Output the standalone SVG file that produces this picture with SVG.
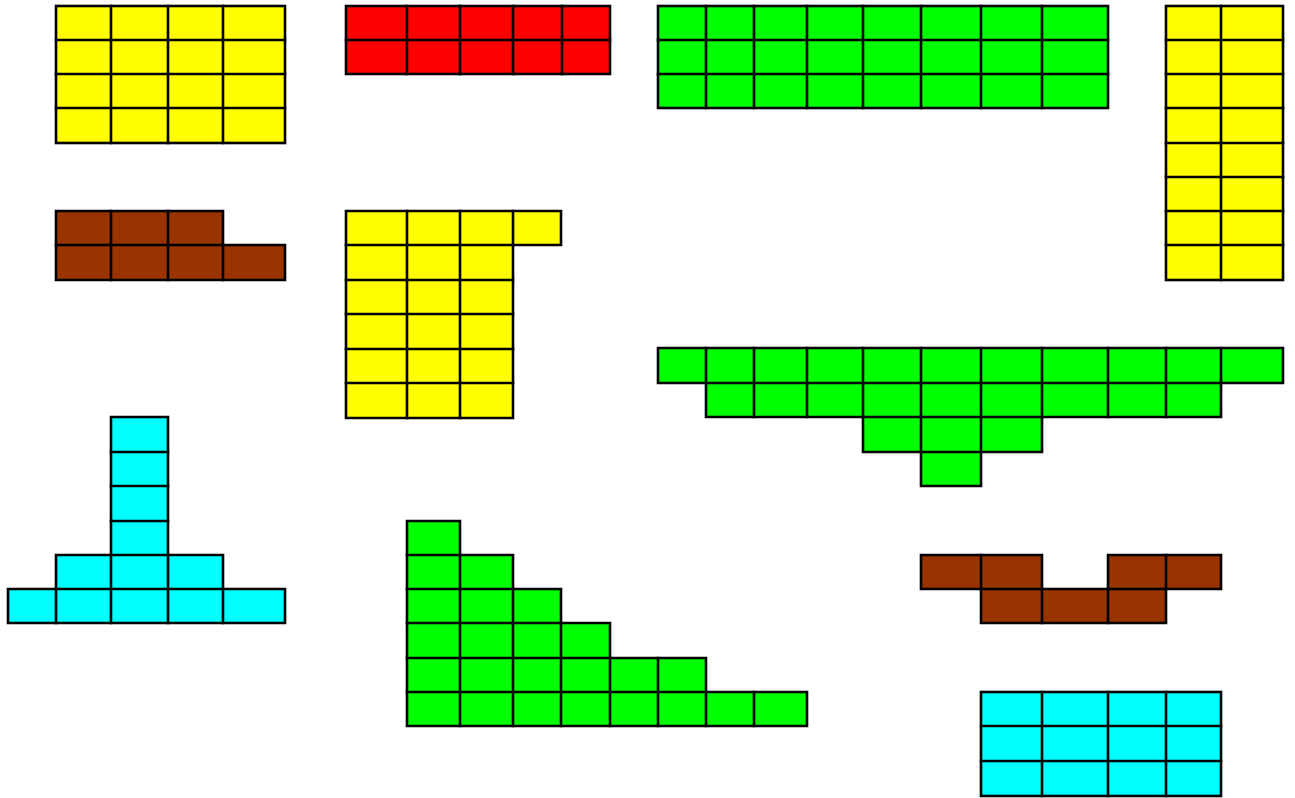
<svg xmlns="http://www.w3.org/2000/svg" width="1295" height="798" viewBox="0 0 1295 798">
<style>
.o{stroke:#000;stroke-width:2.6;stroke-linejoin:miter}
.g{fill:none;stroke:#000;stroke-width:2.6;stroke-linecap:square}
.y{fill:#FFFF00}.r{fill:#FF0000}.gr{fill:#00FF00}.b{fill:#993300}.c{fill:#00FFFF}
</style>
<rect width="1295" height="798" fill="#fff"/>
<g id="shape1">
<rect class="o y" x="56" y="6" width="229" height="137"/>
<path class="g" d="M111 6V143M168 6V143M223 6V143M56 40H285M56 74H285M56 108H285"/>
</g>
<g id="shape2">
<rect class="o r" x="346" y="6" width="264" height="68"/>
<path class="g" d="M407 6V74M460 6V74M513 6V74M562 6V74M346 40H610"/>
</g>
<g id="shape3">
<rect class="o gr" x="658" y="6" width="450" height="102"/>
<path class="g" d="M706 6V108M754 6V108M807 6V108M863 6V108M921 6V108M981 6V108M1042 6V108M658 40H1108M658 74H1108"/>
</g>
<g id="shape4">
<rect class="o y" x="1166" y="6" width="117" height="274"/>
<path class="g" d="M1221 6V280M1166 40H1283M1166 74H1283M1166 108H1283M1166 143H1283M1166 177H1283M1166 211H1283M1166 245H1283"/>
</g>
<g id="shape5">
<polygon class="o b" points="56,211 223,211 223,245 285,245 285,280 56,280"/>
<path class="g" d="M111 211V280M168 211V280M223 245V280M56 245H223"/>
</g>
<g id="shape6">
<polygon class="o y" points="346,211 561,211 561,245 513,245 513,418 346,418"/>
<path class="g" d="M407 211V418M460 211V418M513 211V245M346 245H513M346 280H513M346 314H513M346 349H513M346 383H513"/>
</g>
<g id="shape7">
<polygon class="o gr" points="658,348 1283,348 1283,383 1221,383 1221,417 1042,417 1042,452 981,452 981,486 921,486 921,452 863,452 863,417 706,417 706,383 658,383"/>
<path class="g" d="M706 383H1221M863 417H1042M921 452H981M706 348V383M754 348V417M807 348V417M863 348V417M921 348V452M981 348V452M1042 348V417M1108 348V417M1166 348V417M1221 348V383"/>
</g>
<g id="shape8">
<polygon class="o c" points="111,417 168,417 168,555 223,555 223,589 285,589 285,623 8,623 8,589 56,589 56,555 111,555"/>
<path class="g" d="M111 452H168M111 486H168M111 521H168M111 555H168M56 589H223M111 555V623M168 555V623M56 589V623M223 589V623"/>
</g>
<g id="shape9">
<polygon class="o gr" points="407,521 460,521 460,555 513,555 513,589 561,589 561,623 610,623 610,658 706,658 706,692 807,692 807,726 407,726"/>
<path class="g" d="M407 555H460M407 589H513M407 623H561M407 658H610M407 692H706M460 555V726M513 589V726M561 623V726M610 658V726M658 658V726M706 692V726M754 692V726"/>
</g>
<g id="shape10">
<polygon class="o b" points="921,555 1042,555 1042,589 1108,589 1108,555 1221,555 1221,589 1166,589 1166,623 981,623 981,589 921,589"/>
<path class="g" d="M981 555V589M1042 589V623M1108 589V623M1166 555V589M981 589H1042M1108 589H1166"/>
</g>
<g id="shape11">
<rect class="o c" x="981" y="692" width="240" height="104"/>
<path class="g" d="M1042 692V796M1108 692V796M1166 692V796M981 726H1221M981 761H1221"/>
</g>
</svg>
